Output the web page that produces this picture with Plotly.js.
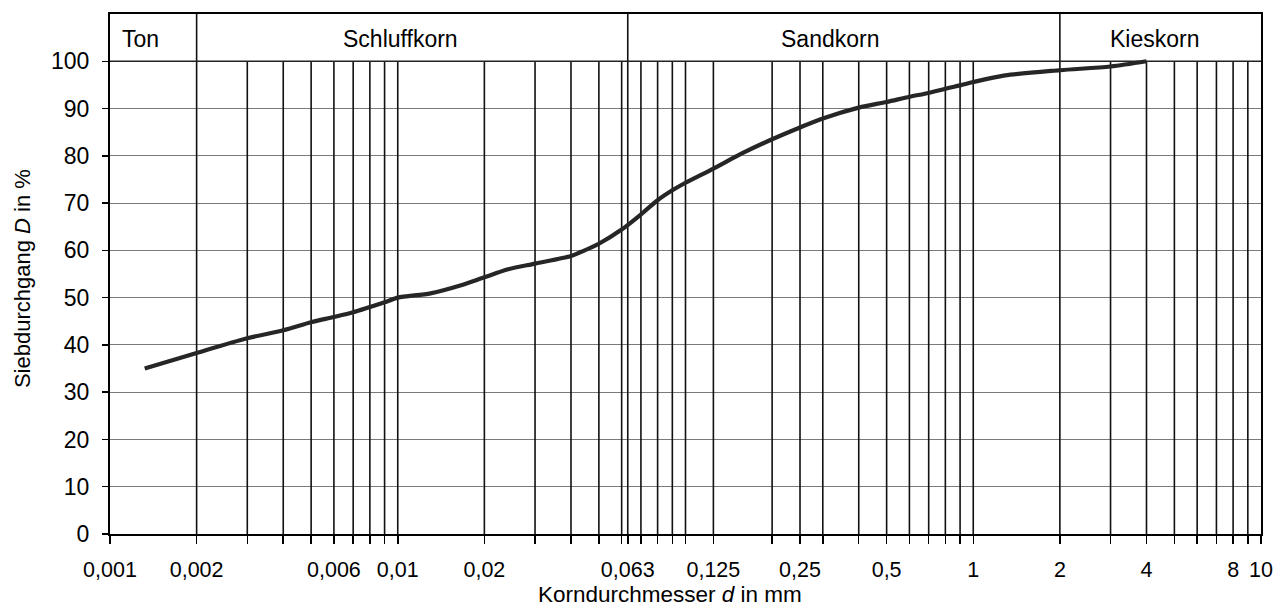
<!DOCTYPE html>
<html>
<head>
<meta charset="utf-8">
<script src="https://cdn.plot.ly/plotly-3.0.1.min.js"></script>
<style>html,body{margin:0;padding:0;background:#fff;}#chart{width:1284px;height:606px;}</style>
</head>
<body>
<div id="chart"></div>
<script>
// Sieve curve (grain size distribution)
const grainSize = [0.00132, 0.002, 0.003, 0.004, 0.005, 0.006, 0.007, 0.008, 0.009, 0.01, 0.013, 0.0166, 0.02, 0.0242, 0.03, 0.04, 0.0435, 0.05, 0.06, 0.07, 0.08, 0.09, 0.1, 0.125, 0.157, 0.2, 0.25, 0.3, 0.4, 0.5, 0.6, 0.7, 0.8, 0.9, 1, 1.29, 2, 3, 4];
const passing   = [35.0, 38.3, 41.4, 43.1, 44.8, 45.9, 46.9, 48.0, 49.0, 50.0, 50.9, 52.6, 54.3, 56.0, 57.2, 58.8, 59.7, 61.4, 64.4, 67.6, 70.6, 72.7, 74.3, 77.3, 80.5, 83.5, 86.0, 87.9, 90.2, 91.4, 92.5, 93.3, 94.2, 94.9, 95.6, 97.0, 98.1, 98.9, 100];

// Vertical grid positions and tick labels
const gridX = [0.001,0.002,0.003,0.004,0.005,0.006,0.007,0.008,0.009,
               0.01,0.02,0.03,0.04,0.05,0.06,0.063,0.07,0.08,0.09,
               0.1,0.125,0.2,0.25,0.3,0.4,0.5,0.6,0.7,0.8,0.9,
               1,2,3,4,5,6,7,8,9,10];
const labeledX = [0.001,0.002,0.006,0.01,0.02,0.063,0.125,0.25,0.5,1,2,4,8,10];
const fractionBounds = [0.002, 0.063, 2];
const yTicks = [0,10,20,30,40,50,60,70,80,90,100];

// Soil fraction band labels
const bandNames = ['Ton','Schluffkorn','Sandkorn','Kieskorn'];
const bandPos = [0.0269, 0.2528, 0.6255, 0.9079];

const fmt = v => String(v).replace('.', ',');
const tickText = gridX.map(v => labeledX.includes(v) ? fmt(v) : '');

// build grid line traces
const gx = [], gy = [];
gridX.forEach(v => { if (v > 0.001 && v < 10) { gx.push(v, v, null); gy.push(0, 100, null); } });
const bx = [], by = [];
fractionBounds.forEach(v => { bx.push(v, v, null); by.push(100, 110, null); });

const FONT = '"Liberation Sans", Arial, sans-serif';

const traces = [
  {x: gx, y: gy, mode: 'lines', line: {color: '#111', width: 1.6}, hoverinfo: 'skip', showlegend: false},
  {x: bx, y: by, mode: 'lines', line: {color: '#111', width: 1.6}, hoverinfo: 'skip', showlegend: false},
  {x: [0.001, 10], y: [100, 100], mode: 'lines', line: {color: '#222', width: 1.5}, hoverinfo: 'skip', showlegend: false},
  {x: grainSize, y: passing, mode: 'lines', line: {color: '#262626', width: 4.2, shape: 'spline', smoothing: 0.8}, showlegend: false}
];

const layout = {
  width: 1284, height: 606,
  margin: {l: 110, r: 23, t: 14, b: 72},
  paper_bgcolor: '#fff', plot_bgcolor: '#fff',
  font: {family: FONT, size: 21, color: '#000'},
  showlegend: false,
  xaxis: {
    type: 'log', range: [-3, 1],
    tickvals: gridX, ticktext: tickText,
    ticks: 'outside', ticklen: 8, tickwidth: 1.5, tickcolor: '#000',
    ticklabelstandoff: 7,
    showgrid: false, zeroline: false,
    showline: true, linecolor: '#000', linewidth: 2, mirror: true,
    tickfont: {family: FONT, size: 21.5, color: '#000'}
  },
  yaxis: {
    range: [0, 110],
    tickvals: yTicks,
    ticks: 'outside', ticklen: 6, tickwidth: 1.5, tickcolor: '#000',
    ticklabelstandoff: 8,
    showgrid: true, gridcolor: '#7a7a7a', gridwidth: 1,
    zeroline: false,
    showline: true, linecolor: '#000', linewidth: 2, mirror: true,
    tickfont: {family: FONT, size: 23, color: '#000'}
  },
  annotations: bandNames.map((t, i) => ({
    text: t, xref: 'paper', yref: 'y', x: bandPos[i], y: 104.7,
    showarrow: false, xanchor: 'center', yanchor: 'middle',
    font: {family: FONT, size: 23, color: '#000'}
  })).concat([
    {text: 'Korndurchmesser <i>d</i> in mm', xref: 'paper', yref: 'paper', x: 0.4865, y: -0.117,
     showarrow: false, xanchor: 'center', yanchor: 'middle', font: {family: FONT, size: 22.5, color: '#000'}},
    {text: 'Siebdurchgang <i>D</i> in %', xref: 'paper', yref: 'paper', x: -0.0765, y: 0.492,
     textangle: -90, showarrow: false, xanchor: 'center', yanchor: 'middle', font: {family: FONT, size: 22, color: '#000'}}
  ])
};

Plotly.newPlot('chart', traces, layout, {staticPlot: true});
</script>
</body>
</html>
